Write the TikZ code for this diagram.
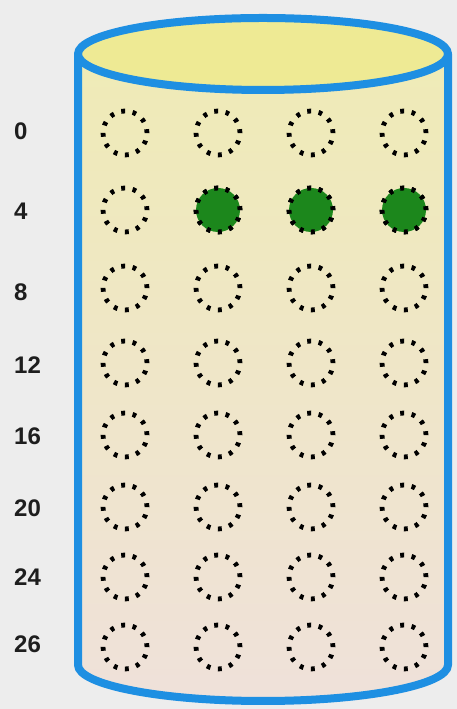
\documentclass[tikz,border=0pt]{standalone}
\usepackage{fontspec}
\setmainfont{Liberation Sans}
\begin{document}
\begin{tikzpicture}[x=1pt,y=1pt,
  blueline/.style={draw=cylblue,line width=8pt,line join=round,line cap=round},
  hole/.style={circle,minimum size=44pt,inner sep=0pt,draw=black,line width=4.8pt,dash pattern=on 3.8pt off 7.7pt},
  full/.style={hole,fill=dotgreen},
  lbl/.style={anchor=west,font=\bfseries\fontsize{24}{26}\selectfont,text=labelgray,inner sep=0pt}]
\definecolor{bg}{HTML}{EDEDED}
\definecolor{cylblue}{HTML}{1E8FE2}
\definecolor{topfill}{HTML}{EEEA94}
\definecolor{bodytop}{HTML}{EFEBB6}
\definecolor{bodybot}{HTML}{EFE1DA}
\definecolor{dotgreen}{HTML}{1C871C}
\definecolor{labelgray}{HTML}{1E1E1E}
\fill[bg] (0,0) rectangle (457,709);
\useasboundingbox (0,0) rectangle (457,709);
% body
\shade[top color=bodytop,bottom color=bodybot]
  (78,655) -- (78,44) arc[start angle=180,end angle=360,x radius=185pt,y radius=36pt] -- (448,655) -- cycle;
\draw[blueline] (78,655) -- (78,44) arc[start angle=180,end angle=360,x radius=185pt,y radius=36pt] -- (448,655);
% top
\filldraw[blueline,fill=topfill] (263,655) ellipse[x radius=185pt,y radius=36pt];
% labels
\node[lbl] (l0) at (14,578) {0};
\node[lbl] (l4) at (14,498) {4};
\node[lbl] (l8) at (14,417) {8};
\node[lbl] (l12) at (14,344) {12};
\node[lbl] (l16) at (14,273) {16};
\node[lbl] (l20) at (14,201) {20};
\node[lbl] (l24) at (14,132) {24};
\node[lbl] (l26) at (14,65) {26};
% holes
\foreach \r/\y in {0/576,4/499,8/421,12/346,16/274,20/202,24/132,26/62}{
  \foreach \c/\x in {1/125,2/218,3/311,4/404}{
    \node[hole] (h\r-\c) at (\x,\y) {};
  }
}
\foreach \c/\x in {2/218,3/311,4/404}{
  \node[full] (g\c) at (\x,499) {};
}
\end{tikzpicture}
\end{document}
